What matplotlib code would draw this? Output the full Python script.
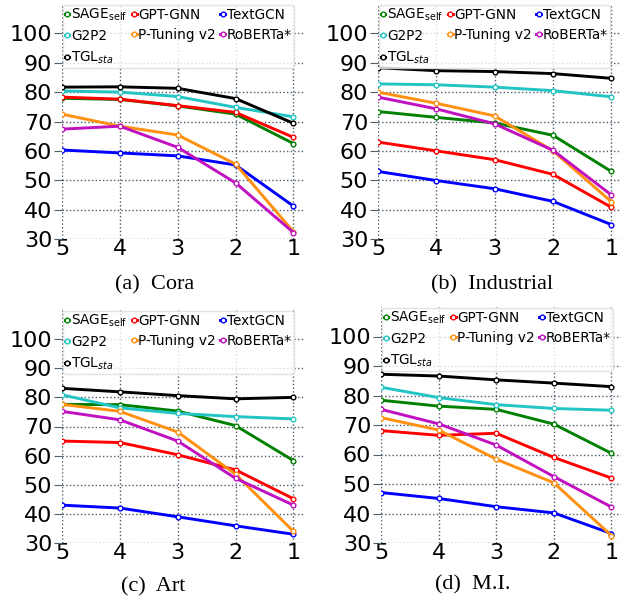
import matplotlib
matplotlib.use("Agg")
import matplotlib.pyplot as plt

# shots on the x axis (left to right)
shots = [5, 4, 3, 2, 1]

methods = ["SAGE$_{\\rm self}$", "GPT-GNN", "TextGCN", "G2P2",
           "P-Tuning v2", "RoBERTa*", "TGL$_{sta}$"]
colors = ["green", "red", "blue", "#22c4c4", "#ff9010", "#c010c0", "black"]

# (a) Cora
cora_sage = [77.9, 77.5, 75.3, 72.5, 62.5]
cora_gptgnn = [78.3, 77.6, 75.4, 73.1, 64.6]
cora_textgcn = [60.3, 59.3, 58.3, 55.2, 41.2]
cora_g2p2 = [80.4, 80.0, 78.5, 74.8, 71.6]
cora_ptuning = [72.5, 68.4, 65.4, 55.5, 32.5]
cora_roberta = [67.4, 68.4, 61.2, 49.1, 32.2]
cora_tgl = [81.7, 81.8, 81.3, 77.8, 69.4]

# (b) Industrial
ind_sage = [73.4, 71.4, 69.5, 65.3, 53.0]
ind_gptgnn = [63.0, 60.0, 57.0, 52.0, 40.8]
ind_textgcn = [53.0, 49.9, 47.1, 42.8, 34.9]
ind_g2p2 = [82.8, 82.5, 81.7, 80.5, 78.4]
ind_ptuning = [80.0, 76.2, 71.9, 60.0, 42.7]
ind_roberta = [78.3, 74.3, 69.2, 60.2, 45.0]
ind_tgl = [88.3, 87.3, 87.0, 86.3, 84.7]

# (c) Art
art_sage = [77.6, 77.5, 75.3, 70.3, 58.3]
art_gptgnn = [65.0, 64.5, 60.3, 55.1, 45.2]
art_textgcn = [43.0, 42.0, 39.0, 35.9, 33.0]
art_g2p2 = [80.9, 76.4, 74.5, 73.4, 72.6]
art_ptuning = [77.6, 75.2, 68.1, 53.6, 34.0]
art_roberta = [75.2, 72.3, 65.0, 52.2, 43.0]
art_tgl = [83.1, 81.9, 80.6, 79.5, 80.0]

# (d) M.I.
mi_sage = [78.4, 76.4, 75.3, 70.3, 60.4]
mi_gptgnn = [68.1, 66.5, 67.2, 59.0, 52.0]
mi_textgcn = [47.1, 45.1, 42.3, 40.2, 33.2]
mi_g2p2 = [82.8, 79.3, 76.9, 75.6, 75.0]
mi_ptuning = [72.5, 68.3, 58.4, 50.4, 32.5]
mi_roberta = [75.3, 70.4, 63.2, 52.5, 42.2]
mi_tgl = [87.2, 86.6, 85.3, 84.2, 83.0]

panels = [
    ("(a)  Cora", [cora_sage, cora_gptgnn, cora_textgcn, cora_g2p2, cora_ptuning, cora_roberta, cora_tgl]),
    ("(b)  Industrial", [ind_sage, ind_gptgnn, ind_textgcn, ind_g2p2, ind_ptuning, ind_roberta, ind_tgl]),
    ("(c)  Art", [art_sage, art_gptgnn, art_textgcn, art_g2p2, art_ptuning, art_roberta, art_tgl]),
    ("(d)  M.I.", [mi_sage, mi_gptgnn, mi_textgcn, mi_g2p2, mi_ptuning, mi_roberta, mi_tgl]),
]

W, H = 621, 603
fig = plt.figure(figsize=(W / 100, H / 100), dpi=100)

# axes boxes in pixels: left, top, right, bottom
boxes = [(62, 4, 305, 239), (378, 4, 623, 239), (62, 310, 305, 543), (381, 307, 623, 543)]
captions_xy = [(155, 285), (492, 285), (153, 587), (473, 585)]

# legend ordering so that matplotlib's column fill reads row-wise
order = [0, 3, 6, 1, 4, 2, 5]

for (title, series), (l, t, r, b), (cx, cy) in zip(panels, boxes, captions_xy):
    ax = fig.add_axes([l / W, 1 - b / H, (r - l) / W, (b - t) / H])
    handles = []
    for name, vals, c in zip(methods, series, colors):
        h, = ax.plot(shots, vals, color=c, lw=2.1, marker="o", ms=3.4,
                     mfc="white", mec=c, mew=1.0, label=name)
        handles.append(h)
    ax.set_xlim(5, 0.8)
    ax.set_ylim(30, 110)
    ax.set_xticks(shots)
    ax.set_yticks([30, 40, 50, 60, 70, 80, 90, 100])
    ax.tick_params(labelsize=16, color="#50606c", length=6, pad=1)
    ax.tick_params(axis="x", length=0, pad=0)
    ax.grid(True, ls=":", color="#4c5a66", lw=1.0)
    for s in ax.spines.values():
        s.set_visible(False)
    ax.set_axisbelow(True)
    leg = ax.legend([handles[i] for i in order], [methods[i] for i in order],
                    ncol=3, loc="upper left", fontsize=9.8, handlelength=0.35,
                    handletextpad=0.1, columnspacing=0.35, labelspacing=0.45,
                    borderpad=0.15, borderaxespad=0.05, framealpha=0.8)
    leg.get_frame().set_edgecolor("#dddddd")
    fig.text(cx / W, 1 - cy / H, title, ha="center", va="center",
             family="Liberation Serif", fontsize=16)

fig.savefig("out.png", dpi=100)
